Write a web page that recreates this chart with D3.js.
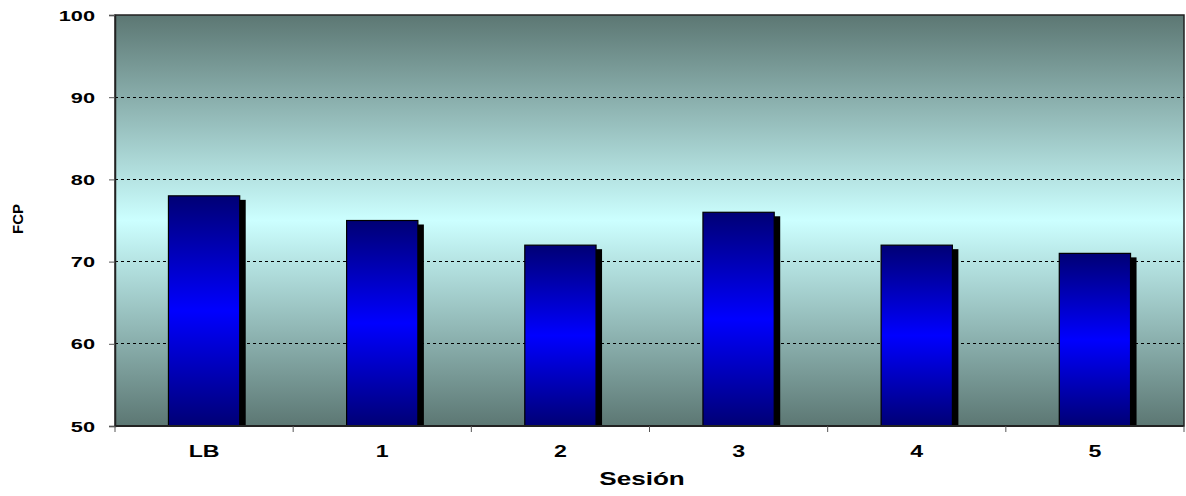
<!DOCTYPE html>
<html>
<head>
<meta charset="utf-8">
<script src="https://cdn.jsdelivr.net/npm/d3@7"></script>
<style>
  html, body { margin: 0; padding: 0; background: #ffffff; }
  svg { display: block; font-family: Arial, "Liberation Sans", sans-serif; }
</style>
</head>
<body>
<svg id="chart" width="1186" height="496"></svg>
<script>
// Session labels and FCP values per session
const sessions = ["LB", "1", "2", "3", "4", "5"];
const fcpValues = [78, 75, 72, 76, 72, 71];
const yTicks = [50, 60, 70, 80, 90, 100];

const width = 1186, height = 496;
const margin = { top: 15, right: 2, bottom: 70, left: 115 };
const innerW = width - margin.left - margin.right;
const innerH = height - margin.top - margin.bottom;
const stretch = 1.45; // wide lettering used for all horizontal labels

const svg = d3.select("#chart");
const defs = svg.append("defs");

// Plot-area background: dark teal at the edges, pale cyan in the middle
const bg = defs.append("linearGradient")
  .attr("id", "bgGrad").attr("x1", 0).attr("y1", 0).attr("x2", 0).attr("y2", 1);
bg.append("stop").attr("offset", "0%").attr("stop-color", "#5c7773");
bg.append("stop").attr("offset", "50%").attr("stop-color", "#ccffff");
bg.append("stop").attr("offset", "100%").attr("stop-color", "#5c7773");

// Bar fill: navy at both ends, bright blue in the middle
const bar = defs.append("linearGradient")
  .attr("id", "barGrad").attr("x1", 0).attr("y1", 0).attr("x2", 0).attr("y2", 1);
bar.append("stop").attr("offset", "0%").attr("stop-color", "#000075");
bar.append("stop").attr("offset", "50%").attr("stop-color", "#0000ff");
bar.append("stop").attr("offset", "100%").attr("stop-color", "#000075");

const g = svg.append("g").attr("transform", `translate(${margin.left},${margin.top})`);

const x = d3.scaleBand().domain(sessions).range([0, innerW]).paddingInner(0.6).paddingOuter(0.3);
const y = d3.scaleLinear().domain([50, 100]).range([innerH, 0]);

g.append("rect")
  .attr("x", 0).attr("y", 0).attr("width", innerW).attr("height", innerH)
  .attr("fill", "url(#bgGrad)");

// Dotted gridlines
g.append("g")
  .selectAll("line")
  .data(yTicks.filter(t => t > 50 && t < 100))
  .join("line")
  .attr("x1", 0).attr("x2", innerW)
  .attr("y1", d => y(d)).attr("y2", d => y(d))
  .attr("stroke", "#000").attr("stroke-width", 1)
  .attr("stroke-dasharray", "3,3")
  .attr("shape-rendering", "crispEdges");

// Bar shadows
const shadowDx = 6, shadowDy = 4;
g.append("g")
  .selectAll("rect")
  .data(fcpValues)
  .join("rect")
  .attr("x", (d, i) => x(sessions[i]) + shadowDx)
  .attr("y", d => y(d) + shadowDy)
  .attr("width", x.bandwidth())
  .attr("height", d => innerH - y(d) - shadowDy)
  .attr("fill", "#000");

// Bars
g.append("g")
  .selectAll("rect")
  .data(fcpValues)
  .join("rect")
  .attr("x", (d, i) => x(sessions[i]))
  .attr("y", d => y(d))
  .attr("width", x.bandwidth())
  .attr("height", d => innerH - y(d))
  .attr("fill", "url(#barGrad)")
  .attr("stroke", "#000")
  .attr("stroke-width", 1.2);

// Plot border
g.append("rect")
  .attr("x", 0).attr("y", 0).attr("width", innerW).attr("height", innerH)
  .attr("fill", "none").attr("stroke", "#222").attr("stroke-width", 1.5);

// Y axis: tick marks from d3, wide labels drawn separately
const yAxis = g.append("g")
  .call(d3.axisLeft(y).tickValues(yTicks).tickSize(6).tickFormat(""));
yAxis.select(".domain").attr("stroke", "#222").attr("stroke-width", 1.5);
yAxis.selectAll(".tick line").attr("stroke", "#555");
g.append("g")
  .selectAll("text")
  .data(yTicks)
  .join("text")
  .attr("transform", d => `translate(-20,${y(d) + 5.5}) scale(${stretch},1)`)
  .attr("text-anchor", "end")
  .attr("font-size", 15).attr("font-weight", "bold").attr("fill", "#000")
  .text(d => d);

// X axis: ticks at category boundaries, labels centred in each band
const xAxisG = g.append("g").attr("transform", `translate(0,${innerH})`);
xAxisG.append("line")
  .attr("x1", 0).attr("x2", innerW)
  .attr("stroke", "#222").attr("stroke-width", 2);
const step = innerW / sessions.length;
xAxisG.selectAll(".xt")
  .data(d3.range(sessions.length + 1))
  .join("line")
  .attr("class", "xt")
  .attr("x1", d => d * step).attr("x2", d => d * step)
  .attr("y1", 0).attr("y2", 6)
  .attr("stroke", "#555");
xAxisG.selectAll("text")
  .data(sessions)
  .join("text")
  .attr("transform", d => `translate(${x(d) + x.bandwidth() / 2},31) scale(${stretch},1)`)
  .attr("text-anchor", "middle")
  .attr("font-size", 16).attr("font-weight", "bold")
  .text(d => d);

// Axis titles
svg.append("text")
  .attr("transform", `translate(642,485) scale(${stretch},1)`)
  .attr("text-anchor", "middle")
  .attr("font-size", 18).attr("font-weight", "bold")
  .text("Sesión");

svg.append("text")
  .attr("transform", `translate(23,219) rotate(-90)`)
  .attr("text-anchor", "middle")
  .attr("font-size", 15).attr("font-weight", "bold")
  .text("FCP");
</script>
</body>
</html>
